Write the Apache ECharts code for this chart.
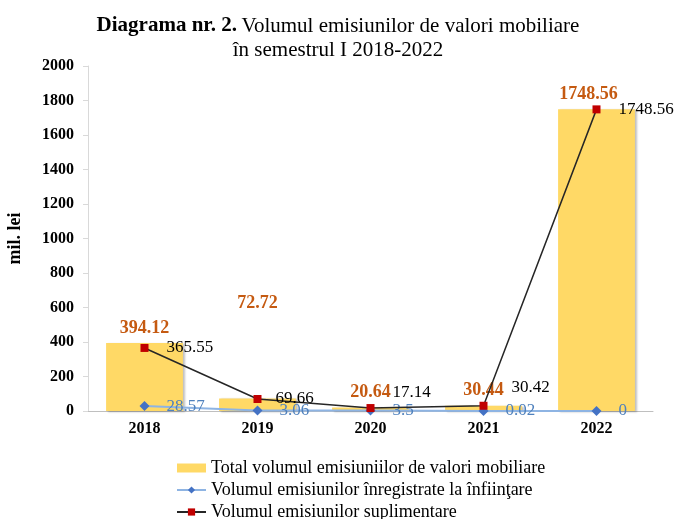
<!DOCTYPE html>
<html>
<head>
<meta charset="utf-8">
<script src="https://cdn.jsdelivr.net/npm/echarts@6/dist/echarts.min.js"></script>
<style>
  html, body { margin: 0; padding: 0; background: #fff; }
  #main { width: 676px; height: 519px; }
</style>
</head>
<body>
<div id="main"></div>
<script>
// date citite din diagrama
var ani = ['2018', '2019', '2020', '2021', '2022'];
var totalVolum = [394.12, 72.72, 20.64, 30.44, 1748.56];
var volumInfiintare = [28.57, 3.06, 3.5, 0.02, 0];
var volumSuplimentar = [365.55, 69.66, 17.14, 30.42, 1748.56];

var serif = '"Liberation Serif", "Times New Roman", serif';
var chart = echarts.init(document.getElementById('main'));

// eticheta 2019 e ridicata mai sus in original
var barData = totalVolum.map(function (v, i) {
  var d = { value: v };
  if (i === 1) d.label = { offset: [0, -80] };
  if (i === 4) d.label = { offset: [-8, 0] };
  return d;
});

// etichetele mici urca putin deasupra punctului
var suplData = volumSuplimentar.map(function (v, i) {
  var d = { value: v };
  if (i === 1) d.label = { offset: [-4, 0] };
  if (i === 2) d.label = { offset: [0, -16] };
  if (i === 3) d.label = { offset: [6, -18] };
  return d;
});

var option = {
  animation: false,
  textStyle: { fontFamily: serif },
  title: {
    left: 'center',
    top: 9,
    text: '{b|Diagrama nr. 2.} {n|Volumul emisiunilor de valori mobiliare}\n{n|în semestrul I 2018-2022}',
    textStyle: {
      fontWeight: 'normal',
      rich: {
        b: { fontFamily: serif, fontSize: 21, fontWeight: 'bold', color: '#000', lineHeight: 24 },
        n: { fontFamily: serif, fontSize: 21, fontWeight: 'normal', color: '#000', lineHeight: 24 }
      }
    }
  },
  legend: {
    orient: 'vertical',
    left: 171,
    top: 453,
    height: 90,
    itemGap: 2,
    itemWidth: 29,
    itemHeight: 9,
    textStyle: { fontFamily: serif, fontSize: 18, color: '#000', lineHeight: 20 },
    data: [
      { name: 'Total volumul emisiuniilor de valori mobiliare', icon: 'rect' },
      'Volumul emisiunilor înregistrate la înfiinţare',
      'Volumul emisiunilor suplimentare'
    ]
  },
  grid: { left: 88, right: 23, top: 66, bottom: 108, outerBoundsMode: 'none' },
  xAxis: {
    type: 'category',
    data: ani,
    axisLine: { lineStyle: { color: '#bfbfbf' } },
    axisTick: { show: false },
    axisLabel: { fontFamily: serif, fontSize: 16, fontWeight: 'bold', color: '#000', margin: 10 }
  },
  yAxis: {
    type: 'value',
    min: 0,
    max: 2000,
    interval: 200,
    name: 'mil. lei',
    nameLocation: 'middle',
    nameGap: 64,
    nameTextStyle: { fontFamily: serif, fontSize: 18, fontWeight: 'bold', color: '#000' },
    axisLine: { show: true, lineStyle: { color: '#d9d9d9' } },
    axisTick: { show: true, length: 5, lineStyle: { color: '#d9d9d9' } },
    splitLine: { show: false },
    axisLabel: {
      fontFamily: serif, fontSize: 16, fontWeight: 'bold', color: '#000', margin: 14,
      formatter: function (v) { return String(v); }
    }
  },
  series: [
    {
      name: 'Total volumul emisiuniilor de valori mobiliare',
      type: 'bar',
      data: barData,
      barWidth: '68%',
      itemStyle: {
        color: '#ffd966',
        shadowColor: 'rgba(0,0,0,0.25)',
        shadowOffsetX: 2,
        shadowOffsetY: 1,
        shadowBlur: 2
      },
      label: {
        show: true,
        position: 'top',
        distance: 6,
        fontFamily: serif,
        fontSize: 18,
        fontWeight: 'bold',
        color: '#c55a11'
      },
      z: 1
    },
    {
      name: 'Volumul emisiunilor înregistrate la înfiinţare',
      type: 'line',
      data: volumInfiintare,
      symbol: 'diamond',
      symbolSize: 10,
      lineStyle: { color: '#8eb4e3', width: 2 },
      itemStyle: { color: '#4472c4' },
      label: {
        show: true,
        position: 'right',
        distance: 17,
        fontFamily: serif,
        fontSize: 17,
        color: '#4f81bd'
      },
      z: 3
    },
    {
      name: 'Volumul emisiunilor suplimentare',
      type: 'line',
      data: suplData,
      symbol: 'rect',
      symbolSize: 8,
      lineStyle: { color: '#262626', width: 1.5 },
      itemStyle: { color: '#c00000' },
      label: {
        show: true,
        position: 'right',
        distance: 18,
        fontFamily: serif,
        fontSize: 17,
        color: '#000'
      },
      z: 4
    }
  ]
};

chart.setOption(option);
</script>
</body>
</html>
